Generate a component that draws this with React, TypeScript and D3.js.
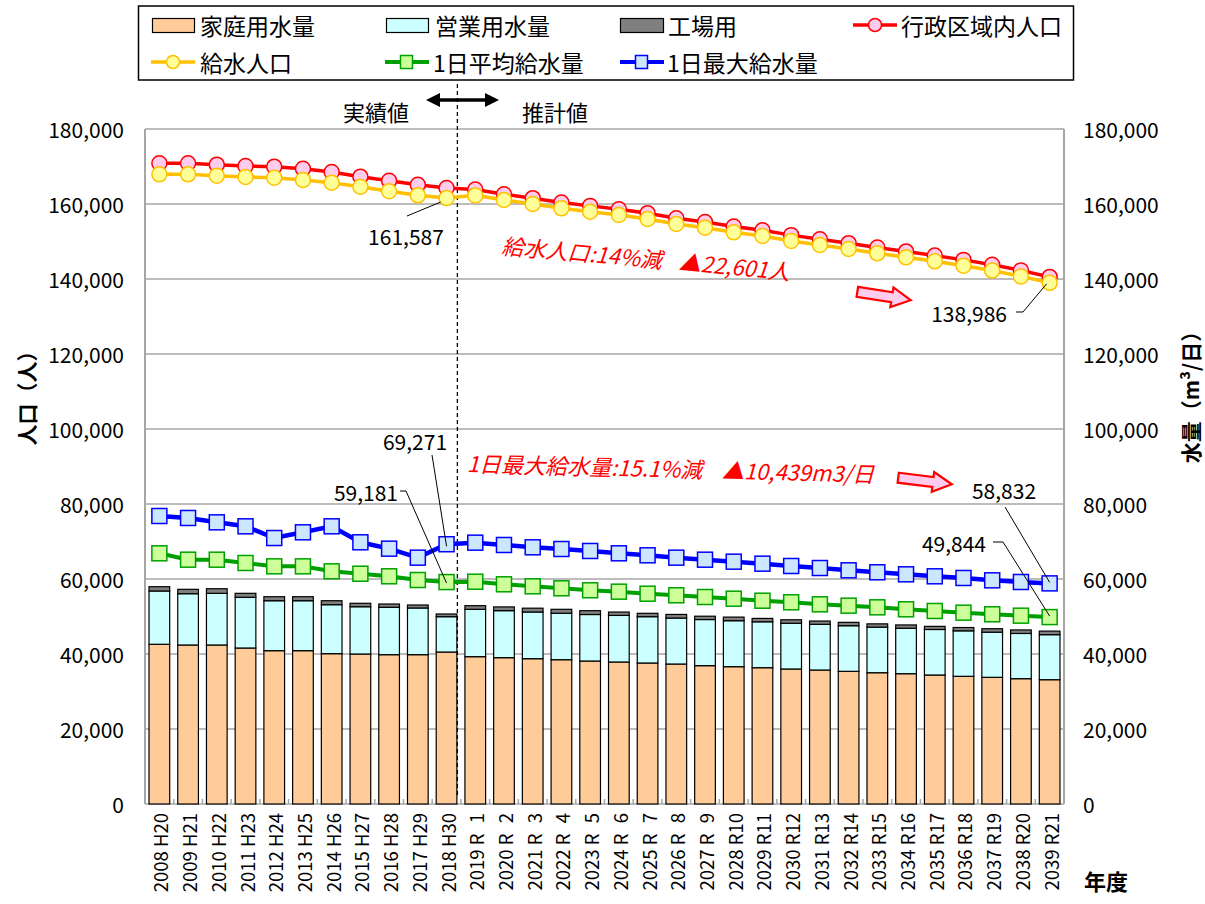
import React from "react";
import * as d3 from "d3";

const years = [2008, 2009, 2010, 2011, 2012, 2013, 2014, 2015, 2016, 2017, 2018, 2019, 2020, 2021, 2022, 2023, 2024, 2025, 2026, 2027, 2028, 2029, 2030, 2031, 2032, 2033, 2034, 2035, 2036, 2037, 2038, 2039];
const eras = ["H20", "H21", "H22", "H23", "H24", "H25", "H26", "H27", "H28", "H29", "H30", "R\u20071", "R\u20072", "R\u20073", "R\u20074", "R\u20075", "R\u20076", "R\u20077", "R\u20078", "R\u20079", "R10", "R11", "R12", "R13", "R14", "R15", "R16", "R17", "R18", "R19", "R20", "R21"];

const domestic = [42590, 42400, 42400, 41600, 40890, 40890, 40090, 40000, 39820, 39820, 40530, 39290, 39020, 38750, 38480, 38130, 37870, 37600, 37330, 36890, 36620, 36350, 36000, 35730, 35380, 35010, 34750, 34400, 34050, 33780, 33420, 33150];
const business = [14210, 13680, 13780, 13510, 13320, 13320, 13060, 12610, 12630, 12450, 9420, 12630, 12540, 12450, 12390, 12400, 12420, 12350, 12260, 12300, 12260, 12240, 12200, 12180, 12160, 12150, 12120, 12140, 12130, 12040, 12060, 12000];
const factory = [1150, 1170, 1230, 1070, 1070, 1070, 1060, 910, 880, 800, 720, 970, 1000, 1020, 1050, 1030, 900, 900, 960, 890, 960, 900, 930, 880, 900, 880, 880, 830, 880, 920, 940, 950];

const adminPop = [170860, 170860, 170480, 170130, 169950, 169410, 168530, 167280, 166210, 165140, 164270, 163850, 162600, 161550, 160400, 159500, 158600, 157550, 156200, 155200, 154000, 153000, 151700, 150600, 149550, 148400, 147350, 146250, 145100, 143800, 142300, 140550];
const servedPop = [167920, 167920, 167550, 167200, 167010, 166400, 165680, 164610, 163390, 162320, 161587, 162300, 161070, 160000, 158850, 157950, 157070, 156000, 154670, 153680, 152450, 151470, 150130, 149070, 148000, 146850, 145780, 144710, 143560, 142250, 140700, 138986];
const avgDaily = [66850, 65150, 65150, 64270, 63380, 63380, 62050, 61410, 60720, 59730, 59181, 59280, 58590, 58050, 57520, 56990, 56620, 56080, 55660, 55200, 54750, 54210, 53790, 53250, 52890, 52450, 51920, 51470, 51020, 50590, 50220, 49844];
const maxDaily = [76800, 76270, 75110, 74050, 70930, 72450, 74050, 69790, 68090, 65690, 69271, 69690, 69070, 68450, 68000, 67470, 66850, 66320, 65690, 65150, 64620, 64090, 63470, 62930, 62320, 61790, 61250, 60720, 60270, 59650, 59200, 58832];

const yTicks = [0, 20000, 40000, 60000, 80000, 100000, 120000, 140000, 160000, 180000];

const FONT = "'Noto Sans CJK JP', 'Noto Sans', sans-serif";
const W = 1205, H = 904;
const PL = 145, PR = 1064, PT = 129, PB = 804;

const C = {
  dom: "#ffcc99", bus: "#ccffff", fac: "#7f7f7f",
  red: "#ff0000", redFill: "#ffccee",
  yel: "#ffc000", yelFill: "#ffff99",
  grn: "#00a000", grnFill: "#ccff99",
  blu: "#0000ff", bluFill: "#cce6ff",
  grid: "#a6a6a6",
};

function BlockArrow({ cx, cy, angle }: { cx: number; cy: number; angle: number }) {
  const pts = [[-27, -5], [8, -5], [8, -10], [27, 0], [8, 10], [8, 5], [-27, 5]];
  return (
    <polygon points={pts.map(p => p.join(",")).join(" ")} transform={`translate(${cx},${cy}) rotate(${angle})`}
      fill={C.redFill} stroke={C.red} strokeWidth={2.2} strokeLinejoin="miter" />
  );
}

function Circle({ x, y, stroke, fill }: any) {
  return <circle cx={x} cy={y} r={7.5} fill={fill} stroke={stroke} strokeWidth={1.5} />;
}
function Square({ x, y, stroke, fill }: any) {
  return <rect x={x - 7.5} y={y - 7.5} width={15} height={15} fill={fill} stroke={stroke} strokeWidth={1.5} />;
}

export default function App() {
  const idx = d3.range(years.length);
  const x = d3.scaleBand<number>().domain(idx).range([PL, PR]).paddingInner(0.28).paddingOuter(0.14);
  const cx = (i: number) => (x(i) as number) + x.bandwidth() / 2;
  const y = d3.scaleLinear().domain([0, 180000]).range([PB, PT]);
  const yR = d3.scaleLinear().domain([0, 180000]).range([PB, PT]);

  const table = idx.map(i => ({ i, domestic: domestic[i], business: business[i], factory: factory[i] }));
  const stack = d3.stack<any>().keys(["domestic", "business", "factory"])(table);
  const fills = [C.dom, C.bus, C.fac];

  const line = (vals: number[], sc = y) => d3.line<number>().x((_, i) => cx(i)).y(v => sc(v))(vals) as string;

  const splitX = (x(10) as number) + x.bandwidth() + 0.5;
  const fmt = d3.format(",");

  const txt = (props: any, s: string) => (
    <text fontFamily={FONT} fill="#000" {...props}>{s}</text>
  );

  return (
    <svg width={W} height={H} style={{ position: "absolute", left: 0, top: 0, background: "#fff" }}>
      <rect x={0} y={0} width={W} height={H} fill="#fff" />

      {/* gridlines */}
      {yTicks.map(t => (
        <line key={t} x1={PL} x2={PR} y1={y(t)} y2={y(t)} stroke={C.grid} strokeWidth={1.5} />
      ))}
      <line x1={PL} x2={PL} y1={PT} y2={PB} stroke={C.grid} strokeWidth={2} />
      <line x1={PR} x2={PR} y1={PT} y2={PB} stroke={C.grid} strokeWidth={2} />
      {d3.range(1, years.length).map(i => {
        const bx = (x(i) as number) - x.step() * x.paddingInner() / 2;
        return <line key={i} x1={bx} x2={bx} y1={PB} y2={PB - 5} stroke={C.grid} strokeWidth={1.5} />;
      })}

      {/* bars */}
      {stack.map((s, k) => (
        <g key={k}>
          {s.map((d, i) => (
            <rect key={i} x={x(i)} y={y(d[1])} width={x.bandwidth()} height={y(d[0]) - y(d[1])}
              fill={fills[k]} stroke="#000" strokeWidth={1.2} />
          ))}
        </g>
      ))}

      {/* split line */}
      <line x1={splitX} x2={splitX} y1={84} y2={PB - 8} stroke="#000" strokeWidth={1.3} strokeDasharray="4,3" />

      {/* lines */}
      <path d={line(adminPop)} fill="none" stroke={C.red} strokeWidth={3.5} />
      {adminPop.map((v, i) => <Circle key={i} x={cx(i)} y={y(v)} stroke={C.red} fill={C.redFill} />)}
      <path d={line(servedPop)} fill="none" stroke={C.yel} strokeWidth={3.5} />
      {servedPop.map((v, i) => <Circle key={i} x={cx(i)} y={y(v)} stroke={C.yel} fill={C.yelFill} />)}
      <path d={line(avgDaily, yR)} fill="none" stroke={C.grn} strokeWidth={4} />
      {avgDaily.map((v, i) => <Square key={i} x={cx(i)} y={yR(v)} stroke={C.grn} fill={C.grnFill} />)}
      <path d={line(maxDaily, yR)} fill="none" stroke={C.blu} strokeWidth={4.5} />
      {maxDaily.map((v, i) => <Square key={i} x={cx(i)} y={yR(v)} stroke={C.blu} fill={C.bluFill} />)}

      {/* y tick labels */}
      {yTicks.map(t => (
        <g key={t}>
          {txt({ x: 124, y: y(t), textAnchor: "end", dominantBaseline: "central", fontSize: 21 }, fmt(t))}
          {txt({ x: 1083, y: yR(t), textAnchor: "start", dominantBaseline: "central", fontSize: 21 }, fmt(t))}
        </g>
      ))}

      {/* x tick labels */}
      {idx.map(i => (
        <text key={i} transform={`translate(${cx(i) + 1},${813}) rotate(-90)`} textAnchor="end" dominantBaseline="central"
          fontFamily={FONT} fontSize={18.5} fill="#000">{`${years[i]} ${eras[i]}`}</text>
      ))}
      {txt({ x: 1106, y: 880, textAnchor: "middle", dominantBaseline: "central", fontSize: 22, fontWeight: "bold" }, "年度")}

      {/* axis titles */}
      <text transform={`translate(26,393) rotate(-90)`} textAnchor="middle" dominantBaseline="central" fontFamily={FONT} fontSize={21} fontWeight="bold">人口（人）</text>
      <text transform={`translate(1190,392) rotate(-90)`} textAnchor="middle" dominantBaseline="central" fontFamily={FONT} fontSize={21} fontWeight="bold">水量（m³/日）</text>

      {/* legend */}
      <rect x={138.5} y={6} width={935} height={74} fill="#fff" stroke="#000" strokeWidth={1.5} />
      <rect x={152.5} y={18.5} width={42} height={14} fill={C.dom} stroke="#000" strokeWidth={1.2} />
      {txt({ x: 200, y: 25, dominantBaseline: "central", fontSize: 23 }, "家庭用水量")}
      <rect x={386.5} y={18.5} width={42} height={14} fill={C.bus} stroke="#000" strokeWidth={1.2} />
      {txt({ x: 435, y: 25, dominantBaseline: "central", fontSize: 23 }, "営業用水量")}
      <rect x={620.5} y={18.5} width={43} height={14} fill={C.fac} stroke="#000" strokeWidth={1.2} />
      {txt({ x: 668, y: 25, dominantBaseline: "central", fontSize: 23 }, "工場用")}
      <line x1={853} x2={897} y1={25} y2={25} stroke={C.red} strokeWidth={3.5} />
      <circle cx={875} cy={25} r={6.5} fill={C.redFill} stroke={C.red} strokeWidth={1.5} />
      {txt({ x: 901, y: 25, dominantBaseline: "central", fontSize: 23 }, "行政区域内人口")}

      <line x1={151} x2={195} y1={62} y2={62} stroke={C.yel} strokeWidth={3.5} />
      <circle cx={173} cy={62} r={6.5} fill={C.yelFill} stroke={C.yel} strokeWidth={1.5} />
      {txt({ x: 200, y: 62, dominantBaseline: "central", fontSize: 23 }, "給水人口")}
      <line x1={385} x2={429} y1={62} y2={62} stroke={C.grn} strokeWidth={4} />
      <rect x={400.5} y={55.5} width={12} height={13} fill={C.grnFill} stroke={C.grn} strokeWidth={1.5} />
      {txt({ x: 433, y: 62, dominantBaseline: "central", fontSize: 23 }, "1日平均給水量")}
      <line x1={620} x2={664} y1={62} y2={62} stroke={C.blu} strokeWidth={4} />
      <rect x={635.5} y={55.5} width={12} height={13} fill={C.bluFill} stroke={C.blu} strokeWidth={1.5} />
      {txt({ x: 667, y: 62, dominantBaseline: "central", fontSize: 23 }, "1日最大給水量")}

      {/* actual / forecast */}
      {txt({ x: 376, y: 111, textAnchor: "middle", dominantBaseline: "central", fontSize: 22 }, "実績値")}
      {txt({ x: 555, y: 111, textAnchor: "middle", dominantBaseline: "central", fontSize: 22 }, "推計値")}
      <line x1={437} x2={488} y1={100} y2={100} stroke="#000" strokeWidth={3.5} />
      <polygon points="426,100 440,93 440,107" fill="#000" />
      <polygon points="499,100 485,93 485,107" fill="#000" />

      {/* value callouts */}
      {txt({ x: 406, y: 236, textAnchor: "middle", dominantBaseline: "central", fontSize: 21 }, "161,587")}
      <line x1={407} x2={cx(10) - 6} y1={216} y2={y(servedPop[10]) + 4} stroke="#000" strokeWidth={1} />

      {txt({ x: 1007, y: 313, textAnchor: "end", dominantBaseline: "central", fontSize: 21 }, "138,986")}
      <polyline points={`1016,312 1023,312 ${cx(31) - 3},${y(servedPop[31]) + 1}`} fill="none" stroke="#000" strokeWidth={1} />

      {txt({ x: 415, y: 441, textAnchor: "middle", dominantBaseline: "central", fontSize: 21 }, "69,271")}
      <line x1={432} x2={cx(10)} y1={455} y2={yR(maxDaily[10]) + 2} stroke="#000" strokeWidth={1} />

      {txt({ x: 398, y: 492, textAnchor: "end", dominantBaseline: "central", fontSize: 21 }, "59,181")}
      <polyline points={`400,491 406,491 ${cx(10)},${yR(avgDaily[10]) + 1}`} fill="none" stroke="#000" strokeWidth={1} />

      {txt({ x: 1004, y: 490, textAnchor: "middle", dominantBaseline: "central", fontSize: 21 }, "58,832")}
      <line x1={1005} x2={cx(31)} y1={507} y2={yR(maxDaily[31]) - 1} stroke="#000" strokeWidth={1} />

      {txt({ x: 986, y: 543, textAnchor: "end", dominantBaseline: "central", fontSize: 21 }, "49,844")}
      <polyline points={`993,542 1003,542 ${cx(31)},${yR(avgDaily[31]) - 1}`} fill="none" stroke="#000" strokeWidth={1} />

      {/* red remarks */}
      <g transform="translate(502,244) rotate(5.2)">
        <text x={0} y={0} dominantBaseline="central" fontFamily={FONT} fontSize={22} fontStyle="italic" fill={C.red}>給水人口:14%減</text>
        <text x={178} y={0} dominantBaseline="central" fontFamily={FONT} fontSize={22} fontStyle="italic" fill={C.red}>▲22,601人</text>
      </g>
      <g transform="translate(467,462) rotate(1.5)">
        <text x={0} y={0} dominantBaseline="central" fontFamily={FONT} fontSize={22} fontStyle="italic" fill={C.red}>1日最大給水量:15.1%減</text>
        <text x={255} y={0} dominantBaseline="central" fontFamily={FONT} fontSize={22} fontStyle="italic" fill={C.red}>▲10,439m3/日</text>
      </g>
      <BlockArrow cx={884} cy={296} angle={9} />
      <BlockArrow cx={925} cy={481} angle={7} />
    </svg>
  );
}
